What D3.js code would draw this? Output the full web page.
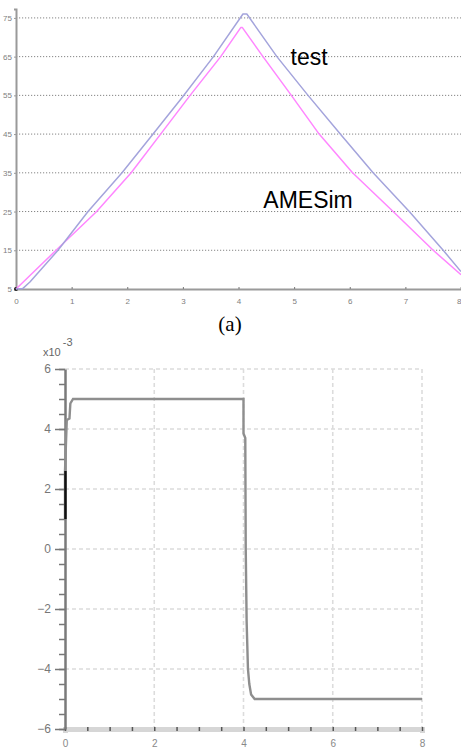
<!DOCTYPE html>
<html><head><meta charset="utf-8">
<script src="https://cdn.jsdelivr.net/npm/d3@7"></script>
<style>
html,body{margin:0;padding:0;background:#fff;}
svg{display:block;}
</style></head>
<body>
<svg id="c" width="461" height="751"></svg>
<script>
// ---- Chart (a): test vs AMESim ----
const topXTicks = [0,1,2,3,4,5,6,7,8];
const topYTicks = [5,15,25,35,45,55,65,75];
const testX = [0, 0.12, 0.25, 0.755, 1.295, 1.906, 2.464, 2.99, 3.55, 4.08, 4.15, 4.69, 5.25, 5.83, 6.42, 7.07, 7.68, 8.0];
const testY = [5, 5.1, 6.8, 15, 25, 35, 45, 54.5, 65, 76, 76, 65, 55, 45, 35, 25, 15, 9.5];
const amesX = [0, 0.72, 1.45, 2.07, 2.6, 3.13, 3.68, 4.04, 4.07, 4.44, 4.95, 5.45, 6.05, 6.78, 7.5, 8.0];
const amesY = [5, 15, 25, 35, 45, 55, 65, 72.5, 72.5, 65, 55, 45, 35, 25, 15, 8.7];
const topLabels = ["test", "AMESim"];
const topLabelPos = [[5.27, 62.8], [5.25, 25.9]]; // data coords of label baselines

// ---- Chart (b) ----
const botXTicks = [0,2,4,6,8];
const botYTicks = [6,4,2,0,-2,-4,-6];
const sigX = [0, 0, 0.04, 0.1, 0.12, 0.18, 4.0, 4.0, 4.04, 4.05, 4.07, 4.1, 4.13, 4.17, 4.25, 8.0];
const sigY = [1.0, 2.6, 4.3, 4.35, 4.85, 5.0, 5.0, 3.85, 3.7, 0, -2.4, -4.0, -4.5, -4.85, -5.0, -5.0];
const sigDarkX = [0.01, 0.01];
const sigDarkY = [1.0, 2.6];

const svg = d3.select("#c");
const SANS = "Liberation Sans, Arial, sans-serif";

// ===== Top chart =====
const tx = d3.scaleLinear().domain([0,8]).range([16,461]);
const ty = d3.scaleLinear().domain([5,77.3]).range([289,9]);
const gT = svg.append("g");

gT.selectAll("line.grid").data(topYTicks.filter(d=>d>5)).join("line")
  .attr("x1", tx(0)).attr("x2", 461)
  .attr("y1", d=>ty(d)).attr("y2", d=>ty(d))
  .attr("stroke","#858585").attr("stroke-width",1).attr("stroke-dasharray","1.2,1.8");

const yAxT = gT.append("g").attr("transform",`translate(${tx(0)},0)`)
  .call(d3.axisLeft(ty).tickValues(topYTicks).tickSize(2).tickPadding(2));
yAxT.select(".domain").attr("stroke","#9a9a9a").attr("stroke-width",2);
yAxT.selectAll(".tick line").attr("stroke","#9a9a9a");
yAxT.selectAll("text").attr("fill","#808080").attr("font-size","8px").attr("font-family",SANS);

const xAxT = gT.append("g").attr("transform",`translate(0,${ty(5)})`)
  .call(d3.axisBottom(tx).tickValues(topXTicks).tickSize(-2).tickPadding(9));
xAxT.select(".domain").attr("stroke","#9a9a9a").attr("stroke-width",2);
xAxT.selectAll(".tick line").attr("stroke","#777");
xAxT.selectAll("text").attr("fill","#808080").attr("font-size","8px").attr("font-family",SANS)
  .attr("text-anchor", d => d === 8 ? "end" : "middle");

gT.append("circle").attr("cx",tx(0)).attr("cy",ty(5)).attr("r",2).attr("fill","#222");

const lineT = d3.line().x(d=>tx(d[0])).y(d=>ty(d[1]));
gT.append("path").datum(amesX.map((x,i)=>[x,amesY[i]]))
  .attr("d",lineT).attr("fill","none").attr("stroke","#ff86ff").attr("stroke-width",1.5)
  .attr("stroke-linejoin","round");
gT.append("path").datum(testX.map((x,i)=>[x,testY[i]]))
  .attr("d",lineT).attr("fill","none").attr("stroke","#a4a4dc").attr("stroke-width",1.5)
  .attr("stroke-linejoin","round");

gT.selectAll("text.lbl").data(topLabels).join("text")
  .attr("x",(d,i)=>tx(topLabelPos[i][0])).attr("y",(d,i)=>ty(topLabelPos[i][1]))
  .attr("text-anchor","middle")
  .attr("font-family",SANS).attr("font-size","23px").attr("fill","#000")
  .text(d=>d);

svg.append("text").attr("x",230).attr("y",331).attr("text-anchor","middle")
  .attr("font-family","Liberation Serif, Times New Roman, serif").attr("font-size","21px").attr("fill","#000")
  .text("(a)");

// ===== Bottom chart =====
const bx = d3.scaleLinear().domain([0,8]).range([65,422]);
const by = d3.scaleLinear().domain([-6,6]).range([729,369]);
const gB = svg.append("g");

gB.selectAll("line.hg").data(botYTicks.filter(d=>d>-6)).join("line")
  .attr("x1",bx(0)).attr("x2",bx(8)).attr("y1",d=>by(d)).attr("y2",d=>by(d))
  .attr("stroke","#dcdcdc").attr("stroke-width",1.6).attr("stroke-dasharray","4,3");
gB.selectAll("line.vg").data(botXTicks.filter(d=>d>0)).join("line")
  .attr("x1",d=>bx(d)).attr("x2",d=>bx(d)).attr("y1",by(6)).attr("y2",by(-6))
  .attr("stroke","#dcdcdc").attr("stroke-width",1.6).attr("stroke-dasharray","4,3");

const xAxB = gB.append("g").attr("transform",`translate(0,${by(-6)})`)
  .call(d3.axisBottom(bx).tickValues(d3.range(0,8.01,0.5)).tickSize(4).tickFormat(""));
xAxB.select(".domain").attr("stroke","#d6d6d6").attr("stroke-width",5);
xAxB.selectAll(".tick line").attr("stroke","#555").attr("stroke-width",1.5).attr("transform","translate(0,-2)");
const xLabB = gB.append("g").attr("transform",`translate(0,${by(-6)})`)
  .call(d3.axisBottom(bx).tickValues(botXTicks).tickSize(0).tickPadding(11));
xLabB.select(".domain").remove();
xLabB.selectAll("text").attr("fill","#888").attr("font-size","10px").attr("font-family",SANS);

const yMinor = gB.append("g").attr("transform",`translate(${bx(0)},0)`)
  .call(d3.axisLeft(by).tickValues(d3.range(-6,6.01,0.5)).tickSize(6).tickFormat(""));
yMinor.select(".domain").remove();
yMinor.selectAll(".tick line").attr("stroke","#777").attr("stroke-width",1.5);
const yAxB = gB.append("g").attr("transform",`translate(${bx(0)},0)`)
  .call(d3.axisLeft(by).tickValues(botYTicks).tickSize(10).tickPadding(4).tickSizeOuter(0));
yAxB.select(".domain").attr("stroke","#7a7a7a").attr("stroke-width",2.5);
yAxB.selectAll(".tick line").attr("stroke","#777").attr("stroke-width",1.5);
yAxB.selectAll("text").attr("fill","#777").attr("font-size","12px").attr("font-family",SANS);

const ex = svg.append("text").attr("x",43).attr("y",356)
  .attr("font-family",SANS).attr("font-size","11px").attr("fill","#666");
ex.append("tspan").text("x10");
ex.append("tspan").attr("dy",-10).attr("dx",2).text("-3");

const lineB = d3.line().x(d=>bx(d[0])).y(d=>by(d[1]));
gB.append("path").datum(sigX.map((x,i)=>[x,sigY[i]]))
  .attr("d",lineB).attr("fill","none").attr("stroke","#8e8e8e").attr("stroke-width",2.4);
gB.append("path").datum(sigDarkX.map((x,i)=>[x,sigDarkY[i]]))
  .attr("d",lineB).attr("fill","none").attr("stroke","#111").attr("stroke-width",2.4);
</script>
</body></html>
